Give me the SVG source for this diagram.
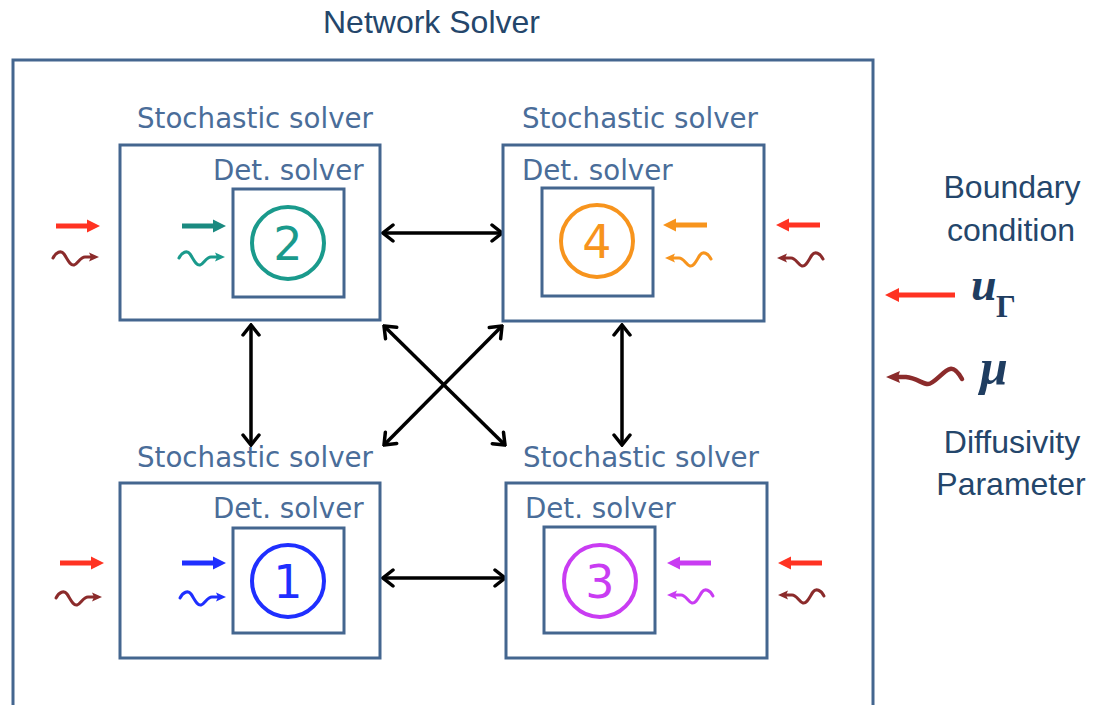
<svg xmlns="http://www.w3.org/2000/svg" xmlns:xlink="http://www.w3.org/1999/xlink" width="1097" height="705" viewBox="0 0 1097 705">
<style>
.box{fill:none;stroke:#44668f;stroke-width:3}
.lbl{font-family:"DejaVu Sans",Verdana,sans-serif;font-size:27.7px;fill:#4a6d99}
.dig{font-family:"DejaVu Sans",Verdana,sans-serif;font-size:46px;text-anchor:middle}
.ttl{font-family:"Liberation Sans",Arial,sans-serif;fill:#24466b}
.conn{stroke:#000;stroke-width:3.5;fill:none;marker-start:url(#chev);marker-end:url(#chev)}
.ring{fill:none;stroke-width:4}
.math{font-family:"Liberation Serif","DejaVu Serif",serif;fill:#1f3d60;font-weight:bold}
</style>
<defs>
<marker id="chev" viewBox="-14 -10 16 20" refX="0" refY="0" markerWidth="16" markerHeight="20" markerUnits="userSpaceOnUse" orient="auto-start-reverse">
<path d="M-10,-8 L0,0 L-10,8" fill="none" stroke="#000" stroke-width="3.5" stroke-linecap="round"/>
</marker>
<g id="sa">
<rect x="0" y="-2.5" width="34" height="5"/>
<path d="M31,-6.5 L44,0 L31,6.5 Z"/>
</g>
<g id="wv">
<path d="M0,1 C3,-5 8,-7 11,-3 C14,1 17,9 21,8 C25,7 27,0 32,0 L39,0" fill="none" stroke="currentColor" stroke-width="3" stroke-linecap="round"/>
<path d="M46,0 L36,-4.5 L38,0 L36,4.5 Z" fill="currentColor"/>
</g>
</defs>
<rect width="1097" height="705" fill="#fff"/>

<text class="ttl" x="323" y="33" font-size="32">Network Solver</text>
<rect id="frame" x="13" y="60" width="860" height="700" class="box"/>

<g id="conns">
<line class="conn" x1="383" y1="233" x2="502" y2="233"/>
<line class="conn" x1="383" y1="578" x2="505" y2="578"/>
<line class="conn" x1="251" y1="325" x2="251" y2="445"/>
<line class="conn" x1="622" y1="325" x2="622" y2="445"/>
<line class="conn" x1="384" y1="326" x2="505" y2="445"/>
<line class="conn" x1="502" y1="326" x2="384" y2="445"/>
</g>

<g id="node2">
<text class="lbl" x="137" y="128">Stochastic solver</text>
<rect class="box" x="120" y="145" width="260" height="175"/>
<text class="lbl" x="213" y="180">Det. solver</text>
<rect class="box" x="233" y="189" width="111" height="108"/>
<circle class="ring" cx="288" cy="243" r="36" stroke="#1a9a8c"/>
<text class="dig" x="288" y="260" fill="#1a9a8c">2</text>
<use xlink:href="#sa" transform="translate(56,226)" fill="#ff3322"/>
<use xlink:href="#sa" transform="translate(182,226)" fill="#1a8a80"/>
<use xlink:href="#wv" transform="translate(53,257)" color="#8b2b2b"/>
<use xlink:href="#wv" transform="translate(179,257)" color="#1a9a8c"/>
</g>

<g id="node4">
<text class="lbl" x="522" y="128">Stochastic solver</text>
<rect class="box" x="503" y="145" width="261" height="176"/>
<text class="lbl" x="522" y="180">Det. solver</text>
<rect class="box" x="542" y="188" width="111" height="108"/>
<circle class="ring" cx="597" cy="241" r="36" stroke="#f7941d"/>
<text class="dig" x="597" y="258" fill="#f7941d">4</text>
<use xlink:href="#sa" transform="translate(707,225) scale(-1,1)" fill="#f7941d"/>
<use xlink:href="#sa" transform="translate(820,225) scale(-1,1)" fill="#ff3322"/>
<use xlink:href="#wv" transform="translate(711,258) scale(-1,1)" color="#f7941d"/>
<use xlink:href="#wv" transform="translate(823,258) scale(-1,1)" color="#8b2b2b"/>
</g>

<g id="node1">
<text class="lbl" x="137" y="467">Stochastic solver</text>
<rect class="box" x="120" y="483" width="260" height="175"/>
<text class="lbl" x="213" y="518">Det. solver</text>
<rect class="box" x="233" y="528" width="111" height="105"/>
<circle class="ring" cx="288" cy="581" r="36" stroke="#1f2fff"/>
<text class="dig" x="288" y="598" fill="#1f2fff">1</text>
<use xlink:href="#sa" transform="translate(60,563)" fill="#ff3322"/>
<use xlink:href="#sa" transform="translate(182,563)" fill="#1f2fff"/>
<use xlink:href="#wv" transform="translate(56,597)" color="#8b2b2b"/>
<use xlink:href="#wv" transform="translate(180,597)" color="#1f2fff"/>
</g>

<g id="node3">
<text class="lbl" x="523" y="467">Stochastic solver</text>
<rect class="box" x="506" y="483" width="261" height="175"/>
<text class="lbl" x="525" y="518">Det. solver</text>
<rect class="box" x="544" y="527" width="111" height="106"/>
<circle class="ring" cx="600" cy="581" r="36" stroke="#c93cf2"/>
<text class="dig" x="600" y="598" fill="#c93cf2">3</text>
<use xlink:href="#sa" transform="translate(711,563) scale(-1,1)" fill="#c93cf2"/>
<use xlink:href="#sa" transform="translate(822,563) scale(-1,1)" fill="#ff3322"/>
<use xlink:href="#wv" transform="translate(713,595) scale(-1,1)" color="#c93cf2"/>
<use xlink:href="#wv" transform="translate(824,595) scale(-1,1)" color="#8b2b2b"/>
</g>

<g id="legend">
<text class="ttl" font-size="32" text-anchor="middle" x="1012" y="198">Boundary</text>
<text class="ttl" font-size="32" text-anchor="middle" x="1011" y="241">condition</text>
<rect x="898" y="292.5" width="57" height="5" fill="#ff3322"/>
<path d="M885,295 L899,288 L899,302 Z" fill="#ff3322"/>
<text class="math" x="971" y="300" font-size="46" font-style="italic">u</text>
<text class="math" x="996" y="317" font-size="31">Γ</text>
<path d="M962,379 C958,372 954,368 950,369 C944,370 934,384 928,384 C922,384 917,378 906,377 L898,377" fill="none" stroke="#8b2b2b" stroke-width="4.5" stroke-linecap="round"/>
<path d="M886,377 L900,371 L898,377 L900,383 Z" fill="#8b2b2b"/>
<text class="math" x="980" y="384" font-size="50" font-style="italic">μ</text>
<text class="ttl" font-size="32" text-anchor="middle" x="1012" y="453">Diffusivity</text>
<text class="ttl" font-size="32" text-anchor="middle" x="1011" y="495">Parameter</text>
</g>
</svg>
